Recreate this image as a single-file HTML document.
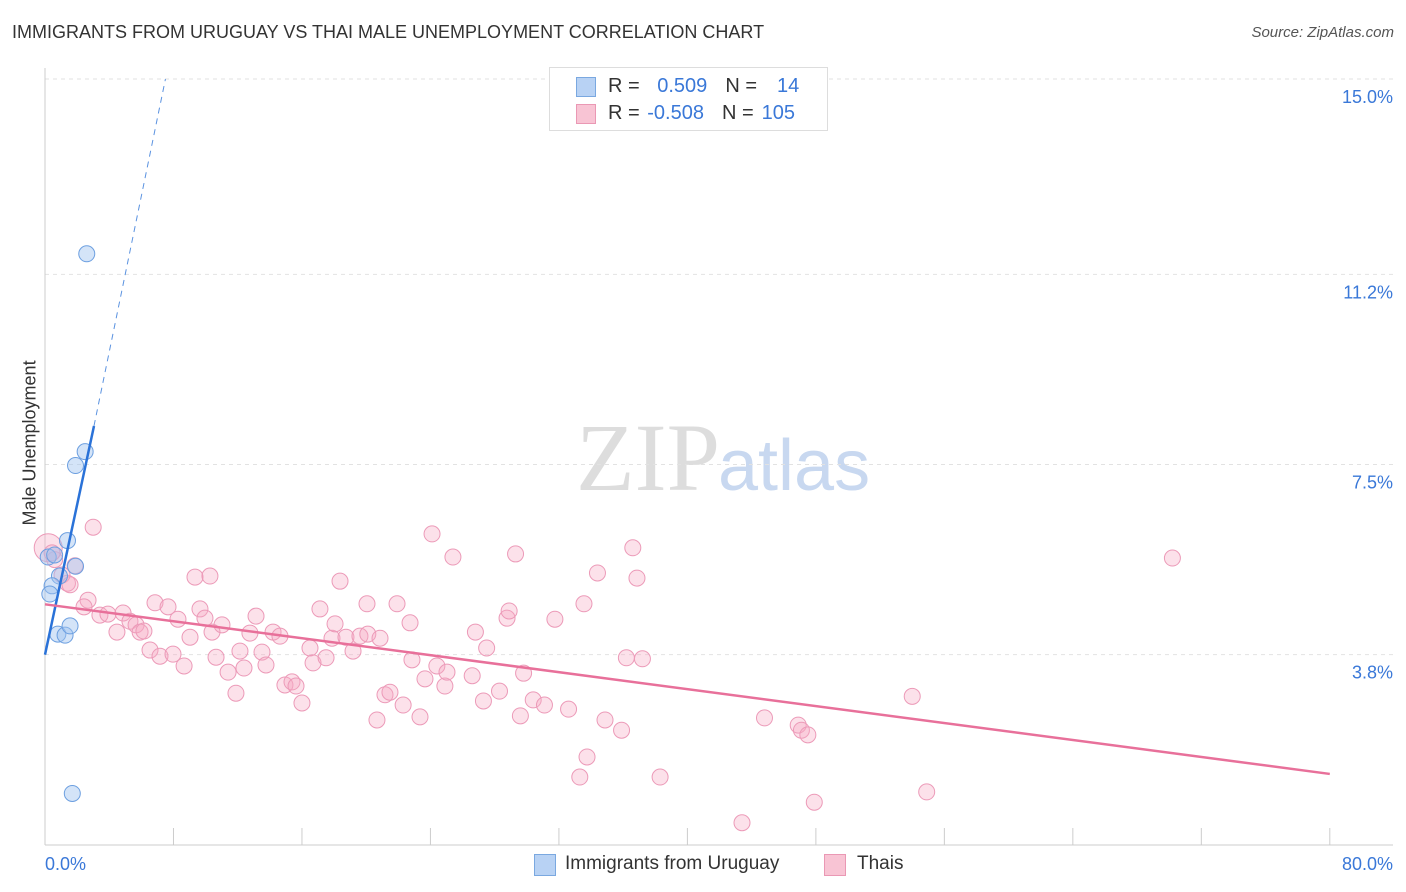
<!DOCTYPE html>
<html><head><meta charset="utf-8">
<style>
body{margin:0;background:#fff;font-family:"Liberation Sans",sans-serif;}
#wrap{position:relative;width:1406px;height:892px;overflow:hidden;}
.t{position:absolute;white-space:nowrap;}
</style></head>
<body>
<div id="wrap">
<div class="t" style="left:12px;top:22px;font-size:18px;color:#333;">IMMIGRANTS FROM URUGUAY VS THAI MALE UNEMPLOYMENT CORRELATION CHART</div>
<div class="t" style="right:12px;top:24px;font-size:15px;color:#555;font-style:italic;">Source: ZipAtlas.com</div>
<div class="t" style="left:-40px;top:445px;font-size:18px;color:#333;transform:rotate(-90deg);transform-origin:center;width:140px;text-align:center;">Male Unemployment</div>
<svg id="chart" width="1406" height="892" style="position:absolute;left:0;top:0">
<text x="720" y="490" font-family="Liberation Serif,serif" font-size="96" fill="#ddd" text-anchor="end">ZIP</text>
<text x="718" y="490" font-family="Liberation Sans,sans-serif" font-size="72" fill="#c8d8f0">atlas</text>
</svg>
<div style="position:absolute;left:549px;top:67px;width:277px;height:62px;border:1px solid #ddd;background:#fff;">
 <div style="position:absolute;left:26px;top:9px;width:18px;height:18px;background:#b8d2f4;border:1px solid #7aa8e0;"></div>
 <div class="t" style="left:58px;top:7px;font-size:20px;color:#333;">R = <span style="color:#3a78d8;margin-left:12px">0.509</span><span style="margin-left:18px">N =</span><span style="color:#3a78d8;margin-left:20px">14</span></div>
 <div style="position:absolute;left:26px;top:36px;width:18px;height:18px;background:#f8c4d4;border:1px solid #ea98b4;"></div>
 <div class="t" style="left:58px;top:34px;font-size:20px;color:#333;">R = <span style="color:#3a78d8;margin-left:2px">-0.508</span><span style="margin-left:18px">N =</span><span style="color:#3a78d8;margin-left:8px">105</span></div>
</div>
<div>
 <div style="position:absolute;left:534px;top:854px;width:20px;height:20px;background:#b8d2f4;border:1px solid #7aa8e0;"></div>
 <div class="t" style="left:565px;top:853px;font-size:19px;color:#333;">Immigrants from Uruguay</div>
 <div style="position:absolute;left:824px;top:854px;width:20px;height:20px;background:#f8c4d4;border:1px solid #ea98b4;"></div>
 <div class="t" style="left:857px;top:853px;font-size:19px;color:#333;">Thais</div>
</div>
</div>
<script>
const yTicks=[15.0,11.2,7.5,3.8];
const yTickLabels=["15.0%","11.2%","7.5%","3.8%"];
const xEnds=[0,80];
const xEndLabels=["0.0%","80.0%"];
const uruguayX=[2.6,2.5,1.9,1.4,1.9,0.9,0.44,0.3,0.8,1.25,1.56,1.7,0.2,0.6];
const uruguayY=[11.6,7.75,7.48,6.02,5.52,5.33,5.14,4.98,4.2,4.18,4.36,1.1,5.7,5.74];
const thaiX=[3.0,0.2,0.6,1.4,1.06,1.87,2.68,2.43,3.42,3.92,4.48,4.86,5.29,5.67,5.92,6.16,6.54,6.85,7.16,7.66,7.97,8.28,8.66,9.03,9.34,9.65,9.96,10.27,10.4,10.65,11.02,11.4,11.89,12.14,12.39,12.76,13.14,13.51,13.76,14.2,14.63,14.94,15.38,15.63,16.0,16.5,16.69,17.12,17.5,17.87,18.06,18.37,18.74,19.18,19.61,20.05,20.1,20.67,20.86,21.17,21.48,21.92,22.3,22.73,22.85,23.35,23.66,24.1,24.4,24.9,25.03,25.4,26.6,26.8,27.3,27.5,28.3,28.77,28.9,29.3,29.6,29.8,30.4,31.1,31.75,32.6,33.3,33.56,33.75,34.4,34.87,35.9,36.2,36.6,36.86,37.2,38.3,43.4,44.8,46.9,47.1,47.5,47.9,54.0,54.9,70.2,0.44,1.56];
const thaiY=[6.28,5.88,5.65,5.19,5.35,5.53,4.86,4.73,4.57,4.59,4.24,4.61,4.45,4.38,4.24,4.26,3.89,4.81,3.77,4.73,3.81,4.49,3.58,4.14,5.31,4.69,4.51,5.33,4.24,3.75,4.38,3.46,3.05,3.87,3.54,4.22,4.55,3.85,3.6,4.24,4.16,3.21,3.27,3.19,2.86,3.93,3.64,4.69,3.74,4.12,4.4,5.23,4.14,3.87,4.16,4.79,4.2,2.53,4.12,3.02,3.07,4.79,2.82,4.42,3.7,2.59,3.33,6.15,3.58,3.19,3.46,5.7,3.39,4.24,2.9,3.93,3.09,4.51,4.65,5.76,2.61,3.44,2.92,2.82,4.49,2.74,1.42,4.79,1.81,5.39,2.53,2.33,3.74,5.88,5.29,3.72,1.42,0.53,2.57,2.43,2.33,2.24,0.93,2.99,1.13,5.68,5.78,5.16];
const blueTrend=[[0,3.8],[3.05,8.25]];
const blueDash=[[3.05,8.25],[7.5,15.0]];
const pinkTrend=[[0,4.78],[80,1.48]];

const X=v=>45+v*16.06;
const Y=v=>79+(15-v)*51.4;
const svg=document.getElementById('chart');
const NS='http://www.w3.org/2000/svg';
function mk(tag,attrs){const e=document.createElementNS(NS,tag);for(const k in attrs)e.setAttribute(k,attrs[k]);svg.appendChild(e);return e;}
// gridlines
yTicks.forEach((t,i)=>{
 const g=mk('line',{x1:45,x2:1393,y1:Y(t),y2:Y(t),stroke:'#e2e2e2','stroke-dasharray':'4,4'});
 
 
 const tx=mk('text',{x:1393,y:Y(t)+24,'text-anchor':'end','font-size':18,fill:'#3a78d8','font-family':'Liberation Sans,sans-serif'});
 tx.textContent=yTickLabels[i];
 
 
});
const ax=mk('line',{x1:45,x2:1393,y1:845,y2:845,stroke:'#ccc'});


const ay=mk('line',{x1:45,x2:45,y1:68,y2:845,stroke:'#ccc'});


for(let v=0;v<=80;v+=8){
 const tk=mk('line',{x1:X(v),x2:X(v),y1:828,y2:845,stroke:'#ccc'});
 
 
}
xEnds.forEach((v,i)=>{
 const tx=mk('text',{x:i?1393:45,y:870,'text-anchor':i?'end':'start','font-size':18,fill:'#3a78d8','font-family':'Liberation Sans,sans-serif'});
 tx.textContent=xEndLabels[i];
 
 
});
thaiX.forEach((x,i)=>{
 const big=(i===1);
 const c=mk('circle',{cx:X(x),cy:Y(thaiY[i]),r:big?14:8,fill:'rgba(246,170,196,0.35)',stroke:'#ec9ab8','stroke-width':1});
 
 
});
uruguayX.forEach((x,i)=>{
 const c=mk('circle',{cx:X(x),cy:Y(uruguayY[i]),r:8,fill:'rgba(160,196,240,0.45)',stroke:'#6c9fe0','stroke-width':1});
 
 
});
const bt=mk('line',{x1:X(blueTrend[0][0]),y1:Y(blueTrend[0][1]),x2:X(blueTrend[1][0]),y2:Y(blueTrend[1][1]),stroke:'#2a72d8','stroke-width':2.5});


const bd=mk('line',{x1:X(blueDash[0][0]),y1:Y(blueDash[0][1]),x2:X(blueDash[1][0]),y2:Y(blueDash[1][1]),stroke:'#5a92e0','stroke-width':1,'stroke-dasharray':'6,5'});


const pt=mk('line',{x1:X(pinkTrend[0][0]),y1:Y(pinkTrend[0][1]),x2:X(pinkTrend[1][0]),y2:Y(pinkTrend[1][1]),stroke:'#e8709a','stroke-width':2.5});


</script>
</body></html>
